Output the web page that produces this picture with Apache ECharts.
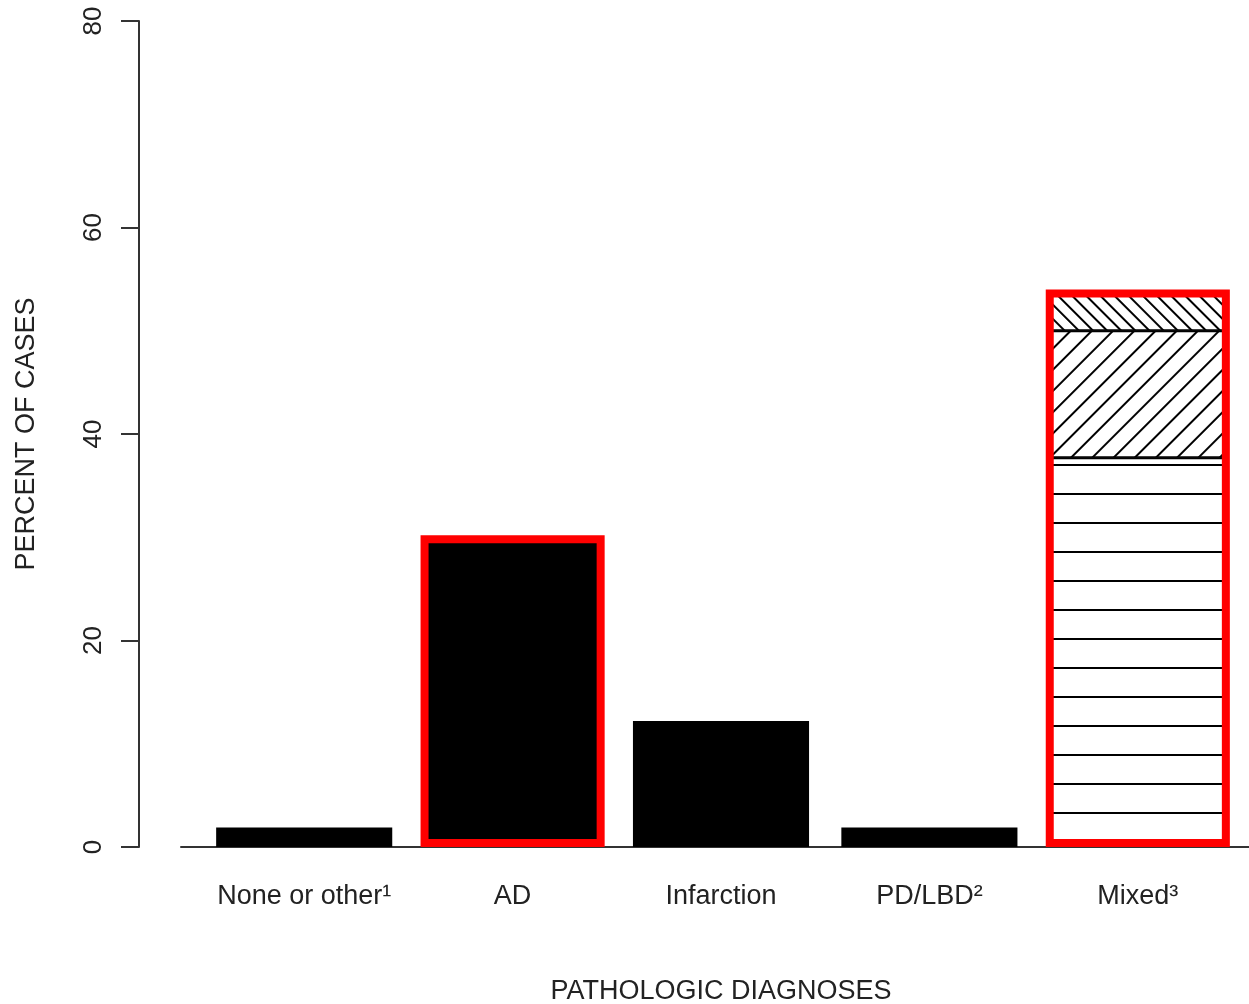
<!DOCTYPE html>
<html>
<head>
<meta charset="utf-8">
<script src="https://cdn.jsdelivr.net/npm/echarts@6/dist/echarts.min.js"></script>
<style>
html,body{margin:0;padding:0;background:#fff;}
#chart{width:1249px;height:1004px;}
</style>
</head>
<body>
<div id="chart"></div>
<script>
// ---- data ----
const categories = ['None or other\u00b9', 'AD', 'Infarction', 'PD/LBD\u00b2', 'Mixed\u00b3'];
const singleValues = [1.9, 29.8, 12.2, 1.9, null];
const mixedBottom = [null, null, null, null, 37.7]; // horizontal hatch
const mixedMiddle = [null, null, null, null, 12.3]; // "/" hatch
const mixedTop = [null, null, null, null, 3.6];     // "\" hatch
const highlighted = [false, true, false, false, true];
const yTicks = [0, 20, 40, 60, 80];
const xTitle = 'PATHOLOGIC DIAGNOSES';
const yTitle = 'PERCENT OF CASES';

const totals = categories.map((c, i) =>
  singleValues[i] != null ? singleValues[i]
    : (mixedBottom[i] || 0) + (mixedMiddle[i] || 0) + (mixedTop[i] || 0));
const highlightData = categories.map((c, i) => highlighted[i] ? [i, totals[i]] : null).filter(d => d);

const FONT = '"Liberation Sans", Arial, Helvetica, sans-serif';
const TXT = '#222';
const BAR_W = '84.5%';

const chart = echarts.init(document.getElementById('chart'), null, {renderer: 'canvas'});

function hatch(rotation, gap) {
  return {
    symbol: 'rect', symbolSize: 1, color: '#000', backgroundColor: '#fff',
    dashArrayX: [1, 0], dashArrayY: [2, gap], rotation: rotation
  };
}

const option = {
  backgroundColor: '#fff',
  animation: false,
  textStyle: {fontFamily: FONT},
  grid: [
    {left: 200, right: 7, top: 21, bottom: 157, containLabel: false, outerBoundsMode: 'none'},
    {left: 181, right: 0, top: 21, bottom: 157, containLabel: false, outerBoundsMode: 'none'}
  ],
  xAxis: [
    {
      type: 'category', gridIndex: 0, data: categories,
      axisLine: {show: false}, axisTick: {show: false},
      axisLabel: {color: TXT, fontSize: 27, fontFamily: FONT, margin: 36, interval: 0},
      name: xTitle, nameLocation: 'middle', nameGap: 131,
      nameTextStyle: {color: TXT, fontSize: 27, fontFamily: FONT}
    },
    {
      type: 'value', gridIndex: 1, min: 0, max: 1,
      axisLine: {show: true, lineStyle: {color: '#333', width: 2}},
      axisTick: {show: false}, axisLabel: {show: false}, splitLine: {show: false}
    }
  ],
  yAxis: [
    {
      type: 'value', gridIndex: 0, position: 'left', offset: 61,
      min: yTicks[0], max: yTicks[yTicks.length - 1], interval: yTicks[1] - yTicks[0],
      axisLine: {show: true, lineStyle: {color: '#333', width: 2}},
      axisTick: {show: true, length: 18, lineStyle: {color: '#333', width: 2}},
      axisLabel: {color: TXT, fontSize: 26, fontFamily: FONT, rotate: 90, margin: 32},
      splitLine: {show: false},
      name: yTitle, nameLocation: 'middle', nameGap: 99,
      nameTextStyle: {color: TXT, fontSize: 27, fontFamily: FONT}
    },
    {type: 'value', gridIndex: 1, show: false, min: 0, max: 1}
  ],
  series: [
    {
      type: 'bar', name: 'single', xAxisIndex: 0, yAxisIndex: 0,
      data: singleValues, barWidth: BAR_W, barGap: '-100%',
      itemStyle: {color: '#000'}, z: 2
    },
    {
      type: 'bar', name: 'mixed-a', stack: 'mixed', xAxisIndex: 0, yAxisIndex: 0,
      data: mixedBottom, barWidth: BAR_W, barGap: '-100%',
      itemStyle: {color: '#fff', borderColor: '#000', borderWidth: 1.5, decal: hatch(0, 27)}, z: 2
    },
    {
      type: 'bar', name: 'mixed-b', stack: 'mixed', xAxisIndex: 0, yAxisIndex: 0,
      data: mixedMiddle, barWidth: BAR_W, barGap: '-100%',
      itemStyle: {color: '#fff', borderColor: '#000', borderWidth: 1.5, decal: hatch(-Math.PI / 4, 13)}, z: 2
    },
    {
      type: 'bar', name: 'mixed-c', stack: 'mixed', xAxisIndex: 0, yAxisIndex: 0,
      data: mixedTop, barWidth: BAR_W, barGap: '-100%',
      itemStyle: {color: '#fff', borderColor: '#000', borderWidth: 1.5, decal: hatch(Math.PI / 4, 8)}, z: 2
    },
    {
      type: 'custom', name: 'highlight', xAxisIndex: 0, yAxisIndex: 0,
      data: highlightData, encode: {x: 0, y: 1}, z: 5,
      renderItem: function (params, api) {
        const top = api.coord([api.value(0), api.value(1)]);
        const base = api.coord([api.value(0), 0]);
        const w = api.size([1, 0])[0] * 0.845;
        const lw = 8;
        return {
          type: 'rect',
          shape: {x: top[0] - w / 2, y: top[1], width: w, height: base[1] - top[1] - lw / 2},
          style: {fill: null, stroke: '#ff0000', lineWidth: lw}
        };
      }
    }
  ]
};
chart.setOption(option);
</script>
</body>
</html>
